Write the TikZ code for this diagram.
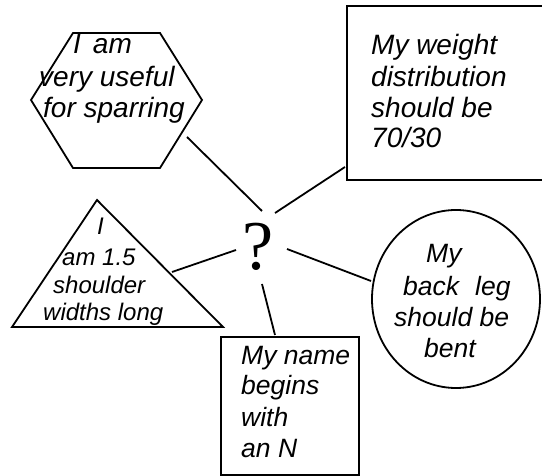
\documentclass[tikz,border=0pt]{standalone}
\usepackage{fontspec}
\setmainfont{Liberation Sans}
\newfontfamily\qfont{Liberation Serif}
\usetikzlibrary{shapes.geometric}
\tikzset{
  shapeline/.style={draw=black, line width=1.8pt, line join=miter},
  link/.style={draw=black, line width=1.8pt},
  boxnode/.style={shapeline, rectangle, inner sep=0pt},
  txt/.style={anchor=base west, inner sep=0pt, font=\itshape\fontsize{28pt}{31pt}\selectfont},
  txtsmall/.style={txt, font=\itshape\fontsize{24pt}{28pt}\selectfont},
  txtmid/.style={txt, font=\itshape\fontsize{26.5pt}{30pt}\selectfont},
}
\begin{document}
\begin{tikzpicture}[x=1pt,y=-1pt]
\useasboundingbox (0,0) rectangle (542,476);
\fill[white] (0,0) rectangle (542,476);

% shapes
\draw[shapeline] (73,33) -- (160,33) -- (202,100) -- (160,168) -- (73,168) -- (31,100) -- cycle;
\node[boxnode, minimum width=198pt, minimum height=174pt] (weight) at (446,93) {};
\draw[shapeline] (97,200) -- (223,327) -- (12,327) -- cycle;
\node[boxnode, minimum width=138pt, minimum height=138pt] (name) at (290,406) {};
\node[shapeline, ellipse, inner sep=0pt, minimum width=168pt, minimum height=178pt] (leg) at (456,299) {};

% centre
\node[inner sep=0pt, anchor=base, font=\qfont\fontsize{70pt}{70pt}\selectfont] (q) at (258.5,270) {?};

% texts
\node[txt] (h1) at (73,54) {I\hspace{12pt}am};
\node[txt] (h2) at (39,87) {very useful};
\node[txt] (h3) at (43,118) {for sparring};

\node[txt] (w1) at (371,55) {My weight};
\node[txt] (w2) at (371,87) {distribution};
\node[txt] (w3) at (371,118) {should be};
\node[txt] (w4) at (371,148) {70/30};

\node[txtsmall] (t1) at (97,235) {I};
\node[txtsmall] (t2) at (62,266) {am 1.5};
\node[txtsmall] (t3) at (53,294) {shoulder};
\node[txtsmall] (t4) at (43,321) {widths long};

\node[txtmid] (n1) at (241,365) {My name};
\node[txtmid] (n2) at (241,395) {begins};
\node[txtmid] (n3) at (241,427) {with};
\node[txtmid] (n4) at (241,457) {an N};

\node[txtmid] (c1) at (426,263) {My};
\node[txtmid] (c2) at (403,296) {back\hspace{16pt}leg};
\node[txtmid] (c3) at (394,327) {should be};
\node[txtmid] (c4) at (424,358) {bent};

% connector end points
\coordinate (hexEnd) at (187,137);
\coordinate (qHex) at (262,211);
\coordinate (qW) at (275,213);
\coordinate (wEnd) at (345,167);
\coordinate (triEnd) at (172,272);
\coordinate (qT) at (236,250);
\coordinate (qC) at (287,249);
\coordinate (cEnd) at (371,281);
\coordinate (qN) at (262,284);
\coordinate (nEnd) at (275,335);

\draw[link] (hexEnd) -- (qHex);
\draw[link] (qW) -- (wEnd);
\draw[link] (triEnd) -- (qT);
\draw[link] (qC) -- (cEnd);
\draw[link] (qN) -- (nEnd);
\end{tikzpicture}
\end{document}
